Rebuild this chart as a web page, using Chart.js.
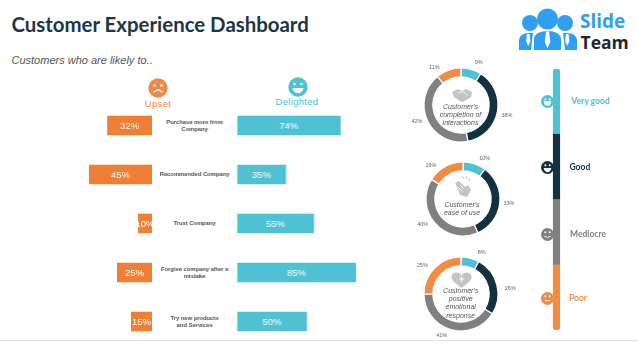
<!DOCTYPE html>
<html lang="en">
<head>
<meta charset="UTF-8">
<title>Customer Experience Dashboard</title>
<script src="https://cdn.jsdelivr.net/npm/chart.js"></script>
<style>
    html, body { margin: 0; padding: 0; background: #fff; }
    #page { position: relative; width: 638px; height: 359px; overflow: hidden; font-family: "Liberation Sans", sans-serif; }
    #page > * { position: absolute; }
    canvas { display: block; }
    .t { white-space: nowrap; line-height: 1; transform: translate(-50%, -50%); }
    .l { white-space: nowrap; line-height: 1; transform: translateY(-50%); }
    .pct { font-size: 5.5px; color: #666; }
    .mid { font-style: italic; font-size: 7px; color: #555; text-align: center; line-height: 8.2px; white-space: nowrap; transform: translateX(-50%); }
    .rate { font-family: Lato, sans-serif; font-weight: 700; font-size: 8.5px; }
</style>
</head>
<body>
<div id="page">
    <div class="l" id="title" style="left:11.5px;top:24px;font-family:Lato;font-weight:700;font-size:20.4px;color:#1b3648">Customer Experience Dashboard</div>
    <div class="l" style="left:11.5px;top:60px;font-style:italic;font-size:11px;color:#555">Customers who are likely to..</div>

    <svg style="left:148px;top:78px" width="20" height="20" viewBox="0 0 20 20">
        <circle cx="10" cy="10" r="9.7" fill="#ef8a45"/>
        <circle cx="6.5" cy="7.5" r="1.3" fill="#fff"/><circle cx="13.5" cy="7.5" r="1.3" fill="#fff"/>
        <path d="M5.5 14.5 Q10 9.5 14.5 14.5" stroke="#fff" stroke-width="1.3" fill="none"/>
    </svg>
    <svg style="left:288px;top:77px" width="20" height="20" viewBox="0 0 20 20">
        <circle cx="10" cy="10" r="9.7" fill="#4fc1d3"/>
        <circle cx="6.5" cy="7" r="1.3" fill="#fff"/><circle cx="13.5" cy="7" r="1.3" fill="#fff"/>
        <path d="M4.5 11 H15.5 Q14.5 16 10 16 Q5.5 16 4.5 11 Z" fill="#fff"/>
    </svg>
    <div class="t" style="left:158px;top:104px;font-size:9.5px;color:#ee8441;letter-spacing:.3px">Upset</div>
    <div class="t" style="left:297px;top:101.7px;font-size:9.5px;color:#4fc1d3;letter-spacing:.3px">Delighted</div>

    <canvas id="upsetBars" style="left:12px;top:100.7px"></canvas>
    <canvas id="delightedBars" style="left:152px;top:100.7px"></canvas>

    <canvas id="ring0" style="left:415.5px;top:59.7px"></canvas>
    <canvas id="ring1" style="left:417.5px;top:154px"></canvas>
    <canvas id="ring2" style="left:416px;top:249.3px"></canvas>

    <svg style="left:451px;top:88px" width="22" height="15" viewBox="0 0 22 15">
        <path d="M1 4 L7 1 L11 3 L15 1 L21 4 L20 9 L12 14 L9 13 L3 9 Z" fill="#c4c4c4"/>
        <path d="M7 5 L12 3.5 L17 8" stroke="#fff" stroke-width=".8" fill="none"/>
    </svg>
    <svg style="left:453px;top:175px" width="19" height="23" viewBox="0 0 19 23">
        <path d="M2 8 L6 6 L12 12 L15 10 L18 15 L14 22 L7 20 L5 14 Z" fill="#c4c4c4"/>
        <path d="M9 1 L11 4 M13 1 L14 4 M16 3 L16 6" stroke="#c4c4c4" stroke-width="1"/>
        <path d="M7 10 L11 14 M5 12 L9 16" stroke="#fff" stroke-width=".8"/>
    </svg>
    <svg style="left:451px;top:272px" width="21" height="16" viewBox="0 0 21 16">
        <path d="M10.5 16 C4 11 .5 8.5 .5 4.8 C.5 2 2.8 .5 5.2 .5 C7.5 .5 9.5 1.6 10.5 3.4 C11.5 1.6 13.5 .5 15.8 .5 C18.2 .5 20.5 2 20.5 4.8 C20.5 8.5 17 11 10.5 16 Z" fill="#c4c4c4"/>
        <path d="M10.5 4.5 V9.5 M8 7 H13" stroke="#fff" stroke-width="1.2"/>
    </svg>

    <canvas id="scaleBar" style="left:550px;top:69.3px"></canvas>

    <svg style="left:518px;top:8px" width="60" height="43" viewBox="0 0 60 43">
        <g fill="#2f9ff0">
            <circle cx="12" cy="15" r="8"/><circle cx="47" cy="15" r="8"/>
            <circle cx="29.5" cy="11" r="10.5"/>
            <path d="M1 42 V32 Q2 25 11 25 L15 25 L13 42 Z"/>
            <path d="M59 42 V32 Q58 25 49 25 L45 25 L47 42 Z"/>
            <path d="M16 42 V31 Q17 23 29.5 23 Q42 23 43 31 V42 Z"/>
        </g>
        <g fill="#fff">
            <path d="M28 23.5 H31 L32.3 34 L29.5 40 L26.7 34 Z"/>
            <path d="M9 26 H11.5 L12.5 33 L10.3 38 L8 33 Z"/>
            <path d="M48 26 H50.5 L51.5 33 L49.3 38 L47 33 Z"/>
        </g>
    </svg>
    <div class="l" style="left:580px;top:21px;font-family:'Open Sans';font-weight:700;font-size:19px;color:#2f9ff0">Slide</div>
    <div class="l" style="left:580.5px;top:43px;font-family:'Open Sans';font-weight:700;font-size:17.5px;color:#1d2730">Team</div>

    <div style="left:0;top:340px;width:638px;height:1px;background:#e4e4e4"></div>
</div>

<script>
var categories = [
    ['Purchase more from', 'Company'],
    ['Recommended Company'],
    ['Trust Company'],
    ['Forgive company after a', 'mistake'],
    ['Try new products', 'and Services']
];
var upsetValues = [32, 45, 10, 25, 15];
var delightedValues = [74, 35, 55, 85, 50];

var ratingLabels = ['Very good', 'Good', 'Mediocre', 'Poor'];
var ringTitles = [
    ["Customer's", 'completion of', 'interactions'],
    ["Customer's", 'ease of use'],
    ["Customer's", 'positive', 'emotional', 'response']
];
var ringValues = [
    [9, 38, 42, 11],
    [10, 33, 40, 16],
    [8, 26, 41, 25]
];
// the rating bar is four equal parts
var scaleValues = [1, 1, 1, 1];

var TEAL = '#4fc1d3', NAVY = '#14313f', GREY = '#808080', ORANGE = '#ef7f35';
var ringColors = [TEAL, NAVY, GREY, '#f28c45'];

var page = document.getElementById('page');

function addText(cls, text, left, top) {
    var d = document.createElement('div');
    d.className = cls;
    d.textContent = text;
    d.style.left = left + 'px';
    d.style.top = top + 'px';
    page.appendChild(d);
    return d;
}

function sizeCanvas(id, w, h) {
    var c = document.getElementById(id);
    c.width = w;
    c.height = h;
    c.style.width = w + 'px';
    c.style.height = h + 'px';
    return c;
}

// white percent text inside each bar
var barText = {
    id: 'barText',
    afterDatasetsDraw: function (chart) {
        var ctx = chart.ctx;
        ctx.save();
        ctx.font = '9.5px "Liberation Sans"';
        ctx.fillStyle = '#fff';
        ctx.textAlign = 'center';
        ctx.textBaseline = 'middle';
        chart.getDatasetMeta(0).data.forEach(function (bar, i) {
            ctx.fillText(chart.data.datasets[0].data[i] + '%', (bar.x + bar.base) / 2, bar.y + 0.5);
        });
        ctx.restore();
    }
};

// category names in the gap between the two bar charts
var categoryText = {
    id: 'categoryText',
    afterDraw: function (chart) {
        var ctx = chart.ctx, y = chart.scales.y;
        ctx.save();
        ctx.font = 'bold 5.8px "Liberation Sans"';
        ctx.fillStyle = '#4a4a4a';
        ctx.textAlign = 'center';
        ctx.textBaseline = 'middle';
        categories.forEach(function (lines, i) {
            var cy = y.getPixelForTick(i) - (lines.length - 1) * 3.5;
            lines.forEach(function (line, n) {
                ctx.fillText(line, 42.5, cy + n * 7);
            });
        });
        ctx.restore();
    }
};

function barChart(id, values, color, reverse, padLeft, width) {
    return new Chart(sizeCanvas(id, width, 245), {
        type: 'bar',
        data: {
            labels: categories.map(function (c) { return c.join(' '); }),
            datasets: [{
                data: values,
                backgroundColor: color,
                barPercentage: 0.4,
                categoryPercentage: 1
            }]
        },
        options: {
            indexAxis: 'y',
            responsive: false,
            animation: false,
            layout: { padding: { left: padLeft } },
            plugins: { legend: { display: false }, tooltip: { enabled: false } },
            scales: {
                x: { display: false, min: 0, max: 100, reverse: reverse },
                y: { display: false }
            }
        },
        plugins: reverse ? [barText] : [barText, categoryText]
    });
}

barChart('upsetBars', upsetValues, ORANGE, true, 0, 140);
barChart('delightedBars', delightedValues, TEAL, false, 84.7, 224.7);

ringValues.forEach(function (values, i) {
    new Chart(sizeCanvas('ring' + i, 90, 90), {
        type: 'doughnut',
        data: {
            labels: ratingLabels,
            datasets: [{
                data: values,
                backgroundColor: ringColors,
                borderColor: '#fff',
                borderWidth: 1.2,
                hoverOffset: 0
            }]
        },
        options: {
            responsive: false,
            animation: false,
            radius: 37,
            cutout: '76%',
            plugins: { legend: { display: false }, tooltip: { enabled: false } }
        }
    });
});

// where the percent labels sit around each ring
var ringLabelSpots = [
    [[478.7, 62.7], [507, 115.7], [417, 122], [434.3, 68.3]],
    [[484.7, 159], [509, 204], [422.7, 225], [431, 166]],
    [[481.7, 253], [510.3, 289], [441.7, 336], [422.3, 266]]
];
ringValues.forEach(function (values, i) {
    values.forEach(function (v, n) {
        addText('t pct', v + '%', ringLabelSpots[i][n][0], ringLabelSpots[i][n][1]);
    });
});

var ringTitleSpots = [[460.5, 102.5], [462, 200.5], [460.7, 287]];
ringTitles.forEach(function (lines, i) {
    var d = addText('mid', '', ringTitleSpots[i][0], ringTitleSpots[i][1]);
    d.innerHTML = lines.join('<br>');
});

// stacked bar, bottom segment first
var scaleColors = [ringColors[3], GREY, NAVY, TEAL];
new Chart(sizeCanvas('scaleBar', 13, 261), {
    type: 'bar',
    data: {
        labels: ['Rating'],
        datasets: scaleValues.map(function (v, i) {
            var radius = i === 0 ? { bottomLeft: 3, bottomRight: 3 } : i === 3 ? { topLeft: 3, topRight: 3 } : 0;
            return {
                label: ratingLabels[3 - i],
                data: [v],
                backgroundColor: scaleColors[i],
                barThickness: 6.5,
                borderSkipped: false,
                borderRadius: radius
            };
        })
    },
    options: {
        responsive: false,
        animation: false,
        plugins: { legend: { display: false }, tooltip: { enabled: false } },
        scales: {
            x: { display: false, stacked: true },
            y: { display: false, stacked: true, min: 0, max: 4 }
        }
    }
});

// rating names and faces next to the bar
var ratingX = [571.3, 569.5, 570, 569];
var ratingY = [101, 167, 234, 298];
var ratingColors = [TEAL, NAVY, GREY, ringColors[3]];
var ratingMouths = [
    '<path d="M2.5 5.5 H9.5 Q9 10 6 10 Q3 10 2.5 5.5 Z" fill="#fff"/>',
    '<path d="M2.5 6.5 H9.5 Q9 10.3 6 10.3 Q3 10.3 2.5 6.5 Z" fill="#fff"/>',
    '<path d="M3 7.5 Q6 10 9 7.5" stroke="#fff" stroke-width=".8" fill="none"/>',
    '<path d="M3.5 8 H8.5" stroke="#fff" stroke-width=".8" fill="none"/>'
];
ratingLabels.forEach(function (name, i) {
    var d = addText('l rate', name, ratingX[i], ratingY[i]);
    d.style.color = ratingColors[i];
    var svg = document.createElementNS('http://www.w3.org/2000/svg', 'svg');
    svg.setAttribute('width', 13);
    svg.setAttribute('height', 13);
    svg.setAttribute('viewBox', '0 0 12 12');
    svg.style.left = '541px';
    svg.style.top = (ratingY[i] - 6.5) + 'px';
    svg.innerHTML = '<circle cx="6" cy="6" r="6" fill="' + ratingColors[i] + '"/>' +
        '<circle cx="4" cy="4" r=".9" fill="#fff"/><circle cx="8" cy="4" r=".9" fill="#fff"/>' + ratingMouths[i];
    page.appendChild(svg);
});
</script>
</body>
</html>
